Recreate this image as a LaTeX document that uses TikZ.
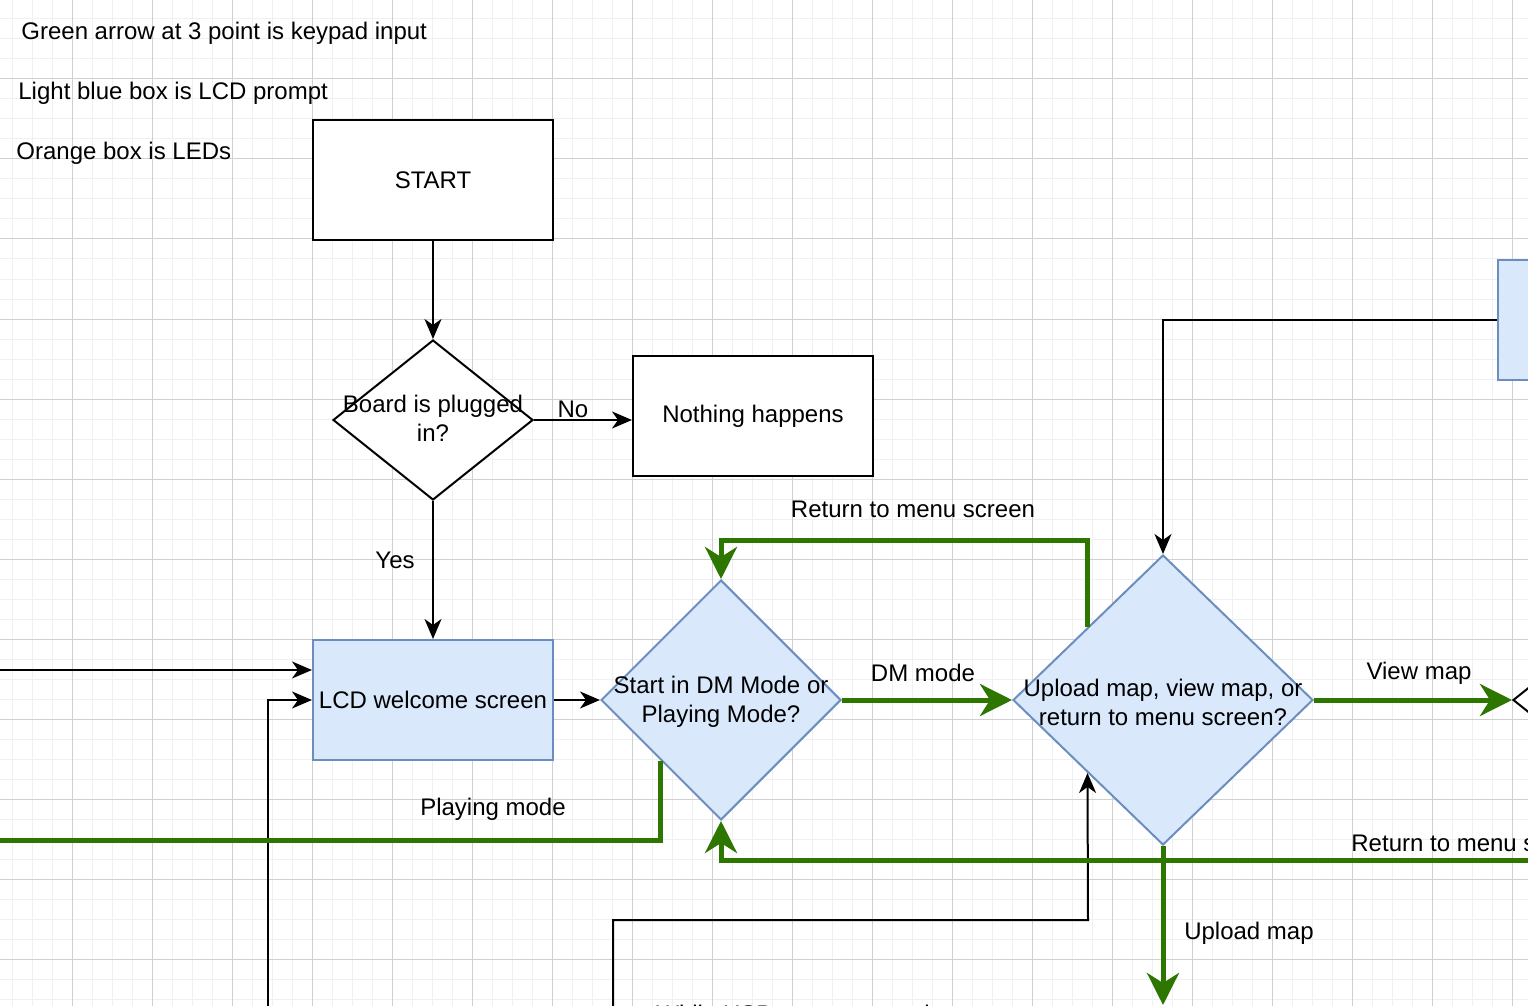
\documentclass[tikz,border=0pt]{standalone}
\usepackage{fontspec}
\setmainfont{Liberation Sans}
\usetikzlibrary{shapes.geometric,arrows.meta,calc}
\definecolor{gr}{HTML}{2D7600}
\definecolor{bfill}{HTML}{DAE8FC}
\definecolor{bstroke}{HTML}{6C8EBF}
\definecolor{minorg}{HTML}{F0F0F0}
\definecolor{majorg}{HTML}{D0D0D0}
\begin{document}
\begin{tikzpicture}[x=0.5pt,y=-0.5pt,
  font=\fontsize{12pt}{14.5pt}\selectfont,
  box/.style={draw=black, fill=white, line width=1pt, minimum width=120pt, minimum height=60pt, inner sep=0pt},
  bluebox/.style={box, draw=bstroke, fill=bfill},
  dia/.style={diamond, draw=black, fill=white, line width=1pt, inner sep=0pt, aspect=1},
  bluedia/.style={dia, draw=bstroke, fill=bfill},
  lbl/.style={inner sep=0pt, align=center, yshift=-1pt},
  blk/.style={draw=black, line width=1pt, -{Stealth[length=10pt,width=8.5pt,inset=3pt]}},
  grn/.style={draw=gr, line width=2.5pt, -{Stealth[length=16pt,width=16pt,inset=5pt]}},
  grnline/.style={draw=gr, line width=2.5pt},
  minorline/.style={draw=minorg, line width=0.5pt},
  majorline/.style={draw=majorg, line width=0.5pt}]
\useasboundingbox (0,0) rectangle (1528,1006);
\begin{scope}
\clip (0,0) rectangle (1528,1006);
\fill[white] (0,0) rectangle (1528,1006);
% grid
\foreach \i in {0,...,76} { \draw[minorline] ({12+20*\i},0) -- ({12+20*\i},1006); }
\foreach \j in {0,...,50} { \draw[minorline] (0,{19+20*\j}) -- (1528,{19+20*\j}); }
\foreach \i in {-1,...,19} { \draw[majorline] ({72+80*\i},0) -- ({72+80*\i},1006); }
\foreach \j in {-1,...,12} { \draw[majorline] (0,{79+80*\j}) -- (1528,{79+80*\j}); }

% legend texts
\node[lbl, anchor=west] (t1) at (21,31) {Green arrow at 3 point is keypad input};
\node[lbl, anchor=west] (t2) at (18,91) {Light blue box is LCD prompt};
\node[lbl, anchor=west] (t3) at (16,151) {Orange box is LEDs};

% nodes
\node[box] (s) at (433,180) {START};
\node[dia, minimum width=100pt, minimum height=80pt] (d1) at (433,420) {};
\node[lbl] (d1t) at (433,416) {Board is plugged\\in?};
\node[box] (nh) at (753,416) {Nothing happens};
\node[bluebox] (lcd) at (433,700) {LCD welcome screen};
\node[bluedia, minimum width=120pt, minimum height=120pt] (d2) at (721,700) {};
\node[lbl] (d2t) at (721,700) {Start in DM Mode or\\Playing Mode?};
\node[bluedia, minimum width=150pt, minimum height=145pt] (d3) at (1163,700) {};
\node[lbl] (d3t) at (1163,700) {Upload map, view map, or\\return to menu screen?};
\node[bluebox] (rb) at (1618,320) {};
\node[dia, minimum width=100pt, minimum height=80pt] (d4) at (1613,700) {};

% free ends
\coordinate (inA) at (-20,670);
\coordinate (inB) at (268,1030);
\coordinate (inC) at (613,1030);
\coordinate (cC) at (1088,920);
\coordinate (r1) at (721,540);
\coordinate (r2) at (1600,860);
\coordinate (pm) at (-20,840);
\coordinate (um) at (1163,1005);

% black connectors
\draw[blk] (s.south) -- (d1.north);
\draw[blk] (d1.east) -- (nh.west |- d1.east);
\draw[blk] (d1.south) -- (lcd.north);
\draw[blk] (lcd.east) -- (d2.west);
\draw[blk] (inA) -- (lcd.west |- inA);
\draw[blk] (inB) |- (lcd.west);
\draw[blk] (inC) |- (cC) -- (d3.south west);
\draw[blk] (rb.west) -| (d3.north);

% green connectors
\draw[grn] (d2.east) -- (d3.west);
\draw[grn] (d3.north west) |- (r1) -- (d2.north);
\draw[grn] (d3.east) -- (d4.west);
\draw[grn] (r2) -| (d2.south);
\draw[grnline] (d2.south west) |- (pm);
\draw[grn] (d3.south) -- (um);

% labels
\node[lbl] (lno) at (573,407) {No};
\node[lbl] (lyes) at (395,558) {Yes};
\node[lbl] (ldm) at (923,671) {DM mode};
\node[lbl] (lret1) at (913,507) {Return to menu screen};
\node[lbl] (lpm) at (493,807) {Playing mode};
\node[lbl] (lvm) at (1419,671) {View map};
\node[lbl, anchor=west] (lret2) at (1351,841) {Return to menu screen};
\node[lbl] (lum) at (1249,931) {Upload map};
\node[lbl, anchor=west] (lusb) at (656,1012) {While USB not connected};
\end{scope}
\end{tikzpicture}
\end{document}
